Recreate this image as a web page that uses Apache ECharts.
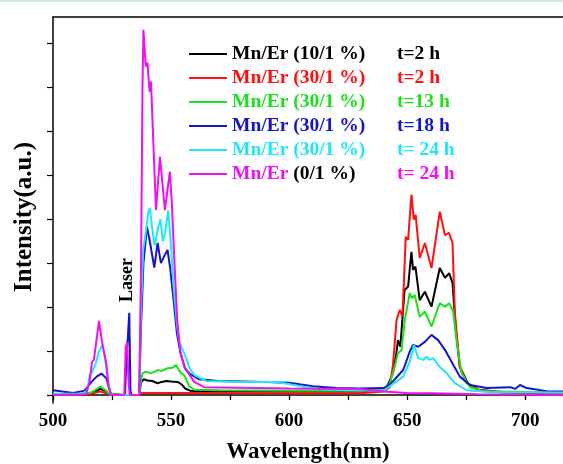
<!DOCTYPE html>
<html>
<head>
<meta charset="utf-8">
<script src="https://cdn.jsdelivr.net/npm/echarts@6/dist/echarts.min.js"></script>
<style>
  html, body { margin: 0; padding: 0; background: #fff; }
  #main { width: 563px; height: 464px; }
</style>
</head>
<body>
<div id="main"></div>
<script>
// legend text
const sampleNames = ['Mn/Er (10/1 %)', 'Mn/Er (30/1 %)', 'Mn/Er (30/1 %)', 'Mn/Er (30/1 %)', 'Mn/Er (30/1 %)', 'Mn/Er (0/1 %)'];
const sampleTimes = ['t=2 h', 't=2 h', 't=13 h', 't=18 h', 't= 24 h', 't= 24 h'];
const lineColors = ['#000000', '#ff1010', '#1de01d', '#1414c8', '#1ee8f5', '#f010f0'];

// ticks
const xTicks = [500, 550, 600, 650, 700];
const xMinorTicks = [500, 525, 550, 575, 600, 625, 650, 675, 700];
const yTicks = [0, 1, 2, 3, 4, 5, 6, 7, 8];

// spectra, [wavelength nm, intensity a.u.]
const mn10_2h = [[500,0.02],[510,0.02],[515,0.03],[518,0.08],[520,0.14],[522,0.1],[524,0.02],[530,0],[536.5,0],[537.3,0.3],[538.5,0.36],[540,0.33],[542,0.32],[544.3,0.27],[546,0.3],[548,0.32],[550,0.31],[552.8,0.3],[554.5,0.24],[556,0.15],[558,0.1],[562,0.09],[580,0.09],[600,0.08],[620,0.08],[636,0.08],[640,0.1],[642,0.25],[644,0.5],[645.3,0.9],[646.1,1.25],[647.1,1.1],[648.9,2.39],[650.4,2.47],[651.8,3.26],[652.5,2.85],[653.5,2.92],[655.3,2.16],[657.5,2.35],[660.3,2.01],[663.8,2.89],[666,2.67],[667.8,2.77],[669.2,2.55],[670.6,1.48],[672.3,0.64],[675.7,0.27],[680,0.12],[690,0.07],[716,0.05]];
const mn30_2h = [[500,0.01],[515,0.02],[520,0.08],[524,0.02],[530,0],[536.5,0],[537.5,0.05],[545,0.05],[560,0.05],[600,0.04],[630,0.04],[640,0.08],[642.6,0.18],[644,0.7],[645.5,1.71],[646.9,1.94],[648,1.78],[649.4,3.6],[650.4,3.53],[651.8,4.56],[652.8,3.99],[653.6,4.1],[655.3,3.12],[657.5,3.46],[660.3,2.89],[663.8,4.17],[666,3.64],[667.7,3.69],[669.2,3.46],[670.2,1.87],[672.3,0.64],[675.2,0.27],[680.8,0.11],[690,0.06],[716,0.04]];
const mn30_13h = [[500,0.01],[512,0.02],[516,0.06],[518,0.12],[520,0.19],[522,0.12],[524,0.02],[530,0],[536.5,0],[537.3,0.35],[538,0.5],[539.3,0.53],[541.5,0.5],[543,0.53],[544.3,0.57],[546,0.55],[548.5,0.61],[550.5,0.62],[552.1,0.68],[554.2,0.5],[555.6,0.45],[557.7,0.2],[560,0.12],[570,0.11],[600,0.1],[630,0.1],[640,0.12],[642.6,0.25],[644.5,0.6],[646.1,0.95],[647.6,1.02],[649,1.71],[651.1,2.32],[652.1,2.2],[653.2,2.28],[655.3,1.78],[657.5,1.9],[660.3,1.56],[663.8,2.09],[666,2.01],[667.8,2.09],[669.5,1.9],[670.9,1.25],[673,0.5],[676.6,0.18],[682,0.09],[716,0.06]];
const mn30_18h = [[500,0.11],[504,0.08],[508.5,0.05],[513.4,0.1],[516.3,0.3],[518.5,0.42],[520.5,0.49],[522.6,0.38],[523.8,0.15],[524.7,0],[530.5,0],[531.1,0.9],[531.7,1.3],[532.3,1.87],[532.8,0.1],[533.3,0],[536.5,0],[537.3,1.6],[538.3,3.0],[539.8,3.83],[541,3.5],[542.9,2.9],[544.3,3.46],[545.7,3.0],[547,3.15],[548.5,3.3],[549.6,2.9],[551,2.2],[552.5,1.4],[554,0.95],[556,0.6],[558,0.48],[562,0.36],[570,0.32],[590,0.3],[600,0.28],[610,0.2],[620,0.16],[630,0.15],[640,0.16],[642.6,0.23],[648.3,0.57],[651.1,0.99],[652.5,1.14],[654.7,1.1],[657.5,1.21],[660.3,1.37],[663.1,1.25],[666,1.03],[668.8,0.76],[672.3,0.42],[676.6,0.23],[683.7,0.16],[693.6,0.18],[695.7,0.14],[697.8,0.23],[700.6,0.16],[709,0.09],[716,0.08]];
const mn30_24h = [[500,0.03],[512,0.03],[514.5,0.1],[515.5,0.45],[516.5,0.52],[518,0.7],[519.5,1.0],[520.9,1.14],[521.8,0.9],[522.8,0.55],[523.7,0.2],[524.5,0],[530,0],[536.5,0],[537.2,1.8],[538.2,3.3],[539.3,3.7],[540.3,4.15],[541,4.26],[542,3.8],[543,3.4],[544.5,3.8],[545.5,4.0],[546.5,3.5],[547.5,3.7],[548.8,4.2],[550,3.4],[551,2.5],[552.5,1.6],[553.5,1.2],[555.6,0.95],[558,0.6],[560,0.45],[565,0.32],[580,0.3],[595,0.3],[605,0.2],[615,0.12],[640,0.1],[642.6,0.2],[648.3,0.42],[651.1,0.76],[652.9,1.14],[654.7,0.84],[656.8,0.8],[658.2,0.87],[659.6,0.8],[661,0.84],[663.8,0.64],[666.7,0.5],[670.2,0.27],[675.2,0.11],[685,0.07],[716,0.06]];
const mn0_24h = [[500,0],[514,0.02],[515.5,0.3],[516.5,0.75],[517.3,0.8],[518.3,1.2],[519.5,1.69],[520.5,1.3],[521.5,1.0],[522.5,0.75],[523.5,0.2],[524.5,0],[530.2,0],[530.8,1.1],[531.4,1.2],[532,0.3],[532.5,0],[536.5,0],[537.3,3.0],[537.9,7.0],[538.3,8.31],[539.3,7.47],[540,7.56],[540.9,6.9],[541.5,7.13],[543.6,4.21],[545.3,5.42],[547.4,4.21],[549.5,5.08],[550.3,4.4],[551.4,3.07],[552.6,1.7],[553.9,1.0],[555.6,0.64],[559.8,0.3],[564.1,0.18],[600,0.15],[630,0.14],[640,0.08],[650,0.05],[660,0.04],[680,0.02],[716,0]];

const spectra = [mn10_2h, mn30_2h, mn30_13h, mn30_18h, mn30_24h, mn0_24h];

const serif = '"Liberation Serif", "DejaVu Serif", serif';
const chart = echarts.init(document.getElementById('main'), null, { renderer: 'canvas' });

// width of the first legend column
const fontSize = 19.5;
const colWidth = 165;
let ctx = document.createElement('canvas').getContext('2d');
ctx.font = 'bold ' + fontSize + 'px ' + serif;
const mnWidth = ctx.measureText('Mn/Er ').width;

let rich = {};
lineColors.forEach(function (c, i) {
  rich['n' + i] = { color: c, width: colWidth, fontSize: fontSize, fontWeight: 'bold', fontFamily: serif, lineHeight: 24 };
  rich['t' + i] = { color: c, fontSize: fontSize, fontWeight: 'bold', fontFamily: serif, lineHeight: 24 };
});
rich.m5 = { color: lineColors[5], fontSize: fontSize, fontWeight: 'bold', fontFamily: serif, lineHeight: 24 };
rich.k5 = { color: '#000', width: colWidth - mnWidth, fontSize: fontSize, fontWeight: 'bold', fontFamily: serif, lineHeight: 24 };

const seriesLabels = sampleNames.map(function (n, i) { return n + ' ' + sampleTimes[i]; });

let series = spectra.map(function (d, i) {
  return {
    name: seriesLabels[i],
    type: 'line',
    data: d,
    symbol: 'none',
    color: lineColors[i],
    lineStyle: { width: 2, color: lineColors[i] }
  };
});

let option = {
  animation: false,
  backgroundColor: '#fff',
  grid: { left: 53, right: 0, top: 17, bottom: 61, outerBoundsMode: 'none' },
  legend: {
    orient: 'vertical',
    left: 184,
    top: 39,
    itemWidth: 38,
    itemHeight: 2,
    itemGap: 4,
    icon: 'rect',
    data: seriesLabels,
    textStyle: { rich: rich },
    formatter: function (name) {
      let i = seriesLabels.indexOf(name);
      if (i === 5) {
        return '{m5|Mn/Er }{k5|(0/1 %)}{t5|' + sampleTimes[5] + '}';
      }
      return '{n' + i + '|' + sampleNames[i] + '}{t' + i + '|' + sampleTimes[i] + '}';
    }
  },
  xAxis: [{
    type: 'value',
    min: 500,
    max: 716,
    interval: 50,
    name: 'Wavelength(nm)',
    nameLocation: 'middle',
    nameGap: 38,
    nameTextStyle: { color: '#000', fontSize: 23, fontWeight: 'bold', fontFamily: serif },
    axisLine: { lineStyle: { color: '#000', width: 1.5 } },
    axisTick: { length: 5, customValues: xMinorTicks, lineStyle: { color: '#000', width: 1.3 } },
    axisLabel: {
      color: '#000', fontSize: 19, fontWeight: 'bold', fontFamily: serif, margin: 9,
      customValues: xTicks
    },
    splitLine: { show: false }
  }, {
    type: 'value',
    position: 'top',
    min: 500,
    max: 716,
    axisLine: { show: true, lineStyle: { color: '#000', width: 1.5 } },
    axisTick: { show: false },
    axisLabel: { show: false },
    splitLine: { show: false }
  }],
  yAxis: {
    type: 'value',
    min: -0.18,
    max: 8.6,
    name: 'Intensity(a.u.)',
    nameLocation: 'middle',
    nameGap: 16,
    nameTextStyle: { color: '#000', fontSize: 25, fontWeight: 'bold', fontFamily: serif, padding: [0, 0, 0, -14] },
    axisLine: { show: true, lineStyle: { color: '#000', width: 1.5 } },
    axisTick: { show: true, length: 6, customValues: yTicks, lineStyle: { color: '#000', width: 1.2 } },
    axisLabel: { show: false },
    splitLine: { show: false }
  },
  graphic: [
    { type: 'rect', shape: { x: 0, y: 0, width: 563, height: 2 }, style: { fill: '#d2eadb' } },
    {
      type: 'text', x: 127, y: 280, rotation: Math.PI / 2,
      style: { text: 'Laser', font: 'bold 18px ' + serif, fill: '#000', align: 'center', verticalAlign: 'middle' }
    }
  ],
  series: series
};

chart.setOption(option);
</script>
</body>
</html>
